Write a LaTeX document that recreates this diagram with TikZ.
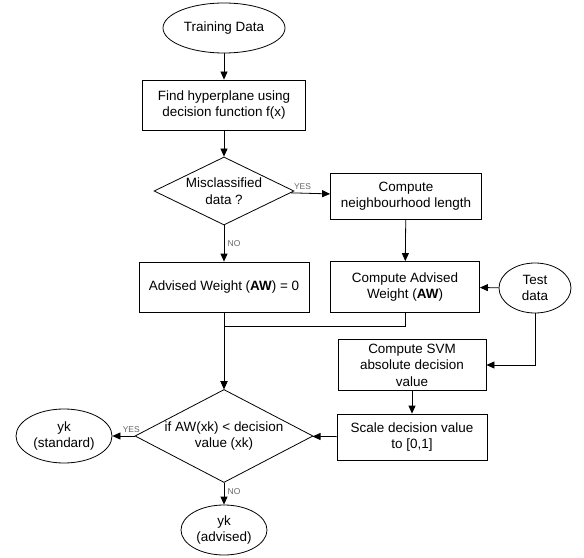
\documentclass[tikz,border=0pt]{standalone}
\usepackage{fontspec}
\setmainfont{Liberation Sans}
\usepackage{tikz}
\usetikzlibrary{shapes.geometric}
\usetikzlibrary{arrows.meta}

\tikzset{
    box/.style={draw, rectangle, align=center, inner sep=0pt},
    term/.style={draw, ellipse, align=center, inner sep=0pt},
    choice/.style={draw, diamond, align=center, inner sep=-3bp},
    tag/.style={font=\fontsize{8.5}{10}\selectfont, text=black!60},
}

\begin{document}
\begin{tikzpicture}[x=1bp, y=-1bp, line width=0.8bp, >={Triangle[length=8bp, width=7bp]},
        font=\fontsize{13.5}{16.5}\selectfont]
        \useasboundingbox (0, 0) rectangle (584, 558);

        \node[term, minimum width=122bp, minimum height=50bp] (train) at (224, 28) {Training Data};
        \node[box, minimum width=163bp, minimum height=50bp] (hyper) at (224, 105) {Find hyperplane using\\decision function f(x)};
        \node[choice, shape aspect=2, minimum width=140bp, minimum height=68bp] (miscl) at (224, 191) {Misclassified\\data ?};

        \node[box, minimum width=151bp, minimum height=46bp] (nbhd) at (406, 196) {Compute\\neighbourhood length};
        \node[box, minimum width=170bp, minimum height=50bp] (aw0) at (224, 287) {Advised Weight (\textbf{AW}) = 0};
        \node[box, minimum width=149bp, minimum height=51bp] (aw) at (405, 287) {Compute Advised\\Weight (\textbf{AW})};
        \node[term, minimum width=72bp, minimum height=50bp] (test) at (535, 288) {Test\\data};

        \node[box, minimum width=148bp, minimum height=51bp] (svm) at (412, 365) {Compute SVM\\absolute decision\\value};
        \node[box, minimum width=150bp, minimum height=46bp] (scale) at (412, 437) {Scale decision value\\to [0,1]};

        \node[choice, shape aspect=1.85, minimum width=178bp, minimum height=93bp] (cond) at (224, 436) {if AW(xk) < decision\\value (xk)};
        \node[term, minimum width=96bp, minimum height=54bp] (std) at (64, 436) {yk\\(standard)};
        \node[term, minimum width=86bp, minimum height=50bp] (adv) at (224, 530) {yk\\(advised)};

        \draw[->] (train) -- (hyper);
        \draw[->] (hyper) -- (miscl);

        \draw[->] (miscl) -- node[tag, above, pos=0.3] {YES} (nbhd);
        \draw[->] (miscl) -- node[tag, right] {NO} (aw0);

        \draw[->] (nbhd) -- (aw);
        \draw[->] (test) -- (aw);
        \draw[->] (test) |- (svm);

        \draw[->] (aw0) -- (cond);
        \draw[->] (aw.south) -- ++(0, 13) -| (cond.north);

        \draw[->] (svm) -- (scale);
        \draw[->] (scale) -- (cond);

        \draw[->] (cond) -- node[tag, above, pos=0.15] {YES} (std);
        \draw[->] (cond) -- node[tag, right, pos=0.4] {NO} (adv);
    \end{tikzpicture}
\end{document}
